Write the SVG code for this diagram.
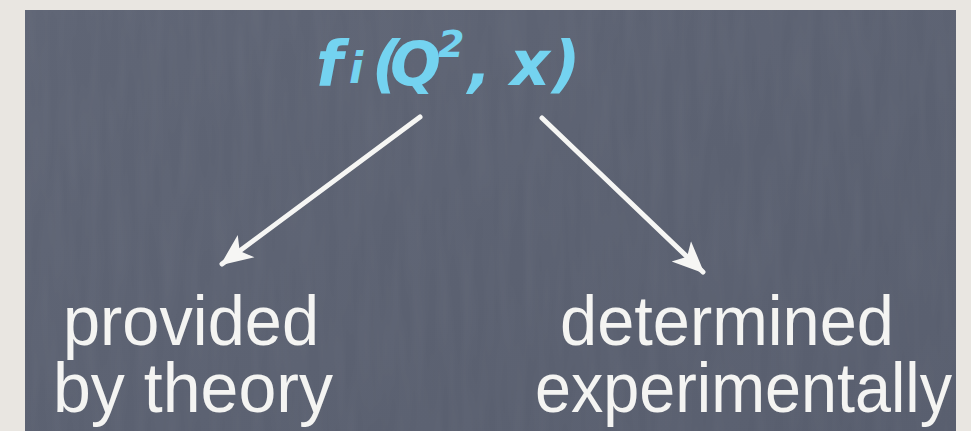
<svg xmlns="http://www.w3.org/2000/svg" width="971" height="431" viewBox="0 0 971 431">
  <style>
    .label { font-family: "Liberation Sans", Arial, sans-serif; font-size: 71px; fill: #f4f4f2; }
    .formula { font-family: "DejaVu Sans", "Open Sans", sans-serif; font-weight: bold; font-style: italic; fill: #74d3f0; }
    .arrow { stroke: #f6f6f4; stroke-width: 5; stroke-linecap: round; fill: none; }
  </style>
  <defs>
    <marker id="head" markerUnits="userSpaceOnUse" viewBox="0 0 32 32" refX="30" refY="16" markerWidth="32" markerHeight="32" orient="auto">
      <path d="M0,2 L32,16 L0,30 L8,16 Z" fill="#f6f6f4"/>
    </marker>
    <linearGradient id="board" x1="0" y1="0" x2="1" y2="1">
      <stop offset="0" stop-color="#5f6575"/>
      <stop offset="1" stop-color="#585e6e"/>
    </linearGradient>
    <filter id="chalk" x="0" y="0" width="100%" height="100%">
      <feTurbulence type="fractalNoise" baseFrequency="0.08 0.01" numOctaves="2" seed="4"/>
      <feColorMatrix type="matrix" values="0 0 0 0 1  0 0 0 0 1  0 0 0 0 1  0 0 0 0.05 -0.015"/>
    </filter>
  </defs>

  <!-- page margin and chalkboard panel -->
  <rect x="0" y="0" width="971" height="431" fill="#e9e6e1"/>
  <rect x="25" y="10" width="931" height="421" fill="url(#board)"/>
  <rect x="25" y="10" width="931" height="421" filter="url(#chalk)"/>

  <g id="formula">
    <text class="formula" y="85" font-size="62"><tspan x="316">f</tspan><tspan x="349" y="83" font-size="42">i</tspan><tspan x="372" y="85">(</tspan><tspan x="390" font-size="60">Q</tspan><tspan x="438" y="57" font-size="38">2</tspan><tspan x="468" y="85">,</tspan><tspan x="510">x</tspan><tspan x="552">)</tspan></text>
  </g>

  <g id="connectors">
    <line class="arrow" x1="420" y1="117" x2="222" y2="264" marker-end="url(#head)"/>
    <line class="arrow" x1="542" y1="118" x2="703" y2="272" marker-end="url(#head)"/>
  </g>

  <g id="theory">
    <text class="label" x="63" y="345" textLength="256" lengthAdjust="spacingAndGlyphs">provided</text>
    <text class="label" x="53" y="412" textLength="280" lengthAdjust="spacingAndGlyphs">by theory</text>
  </g>

  <g id="experiment">
    <text class="label" x="560" y="345" textLength="334" lengthAdjust="spacingAndGlyphs">determined</text>
    <text class="label" x="535" y="412" textLength="417" lengthAdjust="spacingAndGlyphs">experimentally</text>
  </g>
</svg>
